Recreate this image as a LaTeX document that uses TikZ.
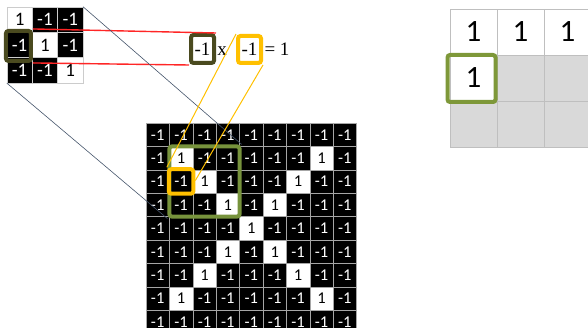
\documentclass[tikz,border=0pt]{standalone}
\usepackage{fontspec}
\setmainfont{Carlito}
\newfontfamily\timesfont{Liberation Serif}
\usetikzlibrary{calc}
\definecolor{darkolive}{HTML}{4A4A1F}
\definecolor{olivegreen}{HTML}{77933C}
\definecolor{amber}{HTML}{FFC000}
\definecolor{slateblue}{HTML}{44546A}

\begin{document}
\begin{tikzpicture}[
	x=1pt, y=-1pt,
	cell/.style={rectangle, draw=gray!70, inner sep=0pt, minimum size=23.4, font=\fontsize{16.5}{16.5}\selectfont},
	fcell/.style={rectangle, draw=gray!40, inner sep=0pt, minimum size=25.3, font=\fontsize{19}{19}\selectfont},
	rcell/.style={rectangle, draw=gray!50, inner sep=0pt, minimum width=47, minimum height=46, font=\fontsize{31}{31}\selectfont},
	v1/.style={fill=white, text=black},
	v-1/.style={fill=black, text=white},
	r1/.style={fill=white, text=black},
	r0/.style={fill=gray!30},
	markbox/.style={rectangle, line width=4pt, rounded corners=2.5pt, inner sep=0pt},
	eqtext/.style={inner sep=0pt, anchor=base, font=\timesfont\fontsize{19}{19}\selectfont},
	redline/.style={red!85, line width=1.4pt},
	blueline/.style={slateblue, line width=0.6pt},
	yellowline/.style={amber, line width=1pt}
	]
	
	\useasboundingbox (0,0) rectangle (588,328);
	\clip (0,0) rectangle (588,328);
	
	% filter
	\foreach \row [count=\r] in {{1,-1,-1},{-1,1,-1},{-1,-1,1}}
	\foreach \v [count=\c] in \row
	\node[fcell, v\v] (f-\r-\c) at ({7+25.3*(\c-0.5)}, {7+25.3*(\r-0.5)}) {\v};
	
	% input image
	\foreach \row [count=\r] in {
		{-1,-1,-1,-1,-1,-1,-1,-1,-1},
		{-1,1,-1,-1,-1,-1,-1,1,-1},
		{-1,-1,1,-1,-1,-1,1,-1,-1},
		{-1,-1,-1,1,-1,1,-1,-1,-1},
		{-1,-1,-1,-1,1,-1,-1,-1,-1},
		{-1,-1,-1,1,-1,1,-1,-1,-1},
		{-1,-1,1,-1,-1,-1,1,-1,-1},
		{-1,1,-1,-1,-1,-1,-1,1,-1},
		{-1,-1,-1,-1,-1,-1,-1,-1,-1}}
	\foreach \v [count=\c] in \row
	\node[cell, v\v] (g-\r-\c) at ({146+23.4*(\c-0.5)}, {123+23.4*(\r-0.5)}) {\v};
	
	% feature map
	\foreach \row [count=\r] in {{1,1,1},{1,0,0},{0,0,0}}
	\foreach \v [count=\c] in \row
	\node[rcell, r\v] (r-\r-\c) at ({450+47*(\c-0.5)}, {9+46*(\r-0.5)}) {\ifnum\v=1 1\fi};
	
	% product
	\node[markbox, draw=darkolive, fill=white, minimum width=23, minimum height=28, font=\timesfont\fontsize{19}{19}\selectfont] (mbox) at (202.5,49) {-1};
	\node[eqtext] (times) at (222,56) {x};
	\node[markbox, draw=amber, fill=white, minimum width=23, minimum height=27, font=\timesfont\fontsize{19}{19}\selectfont] (ybox) at (249.5,49.5) {-1};
	\node[eqtext] (result) at (277,56) {= 1};
	
	% highlight boxes
	\node[markbox, draw=darkolive, minimum width=25, minimum height=30] (fbox) at ($(f-2-1)+(-1.2,1)$) {};
	\node[markbox, draw=olivegreen, minimum size=70.2] (gbox) at (g-3-3) {};
	\node[markbox, draw=amber, minimum size=24.5] (obox) at (g-3-2) {};
	\node[markbox, draw=olivegreen!95!yellow, minimum width=48, minimum height=47] (rbox) at ($(r-2-1)+(-2,0.5)$) {};
	
	% connectors
	\draw[redline] (fbox.north east) -- (mbox.north east);
	\draw[redline] (fbox.south east) -- (mbox.south west);
	\draw[blueline] (f-1-3.north east) -- (gbox.north east);
	\draw[blueline] (f-3-1.south west) -- (gbox.south west);
	\draw[yellowline] (ybox.north west) -- (obox.north west);
	\draw[yellowline] (ybox.south east) -- ($(obox.east)+(0,-1)$);
	
\end{tikzpicture}
\end{document}
